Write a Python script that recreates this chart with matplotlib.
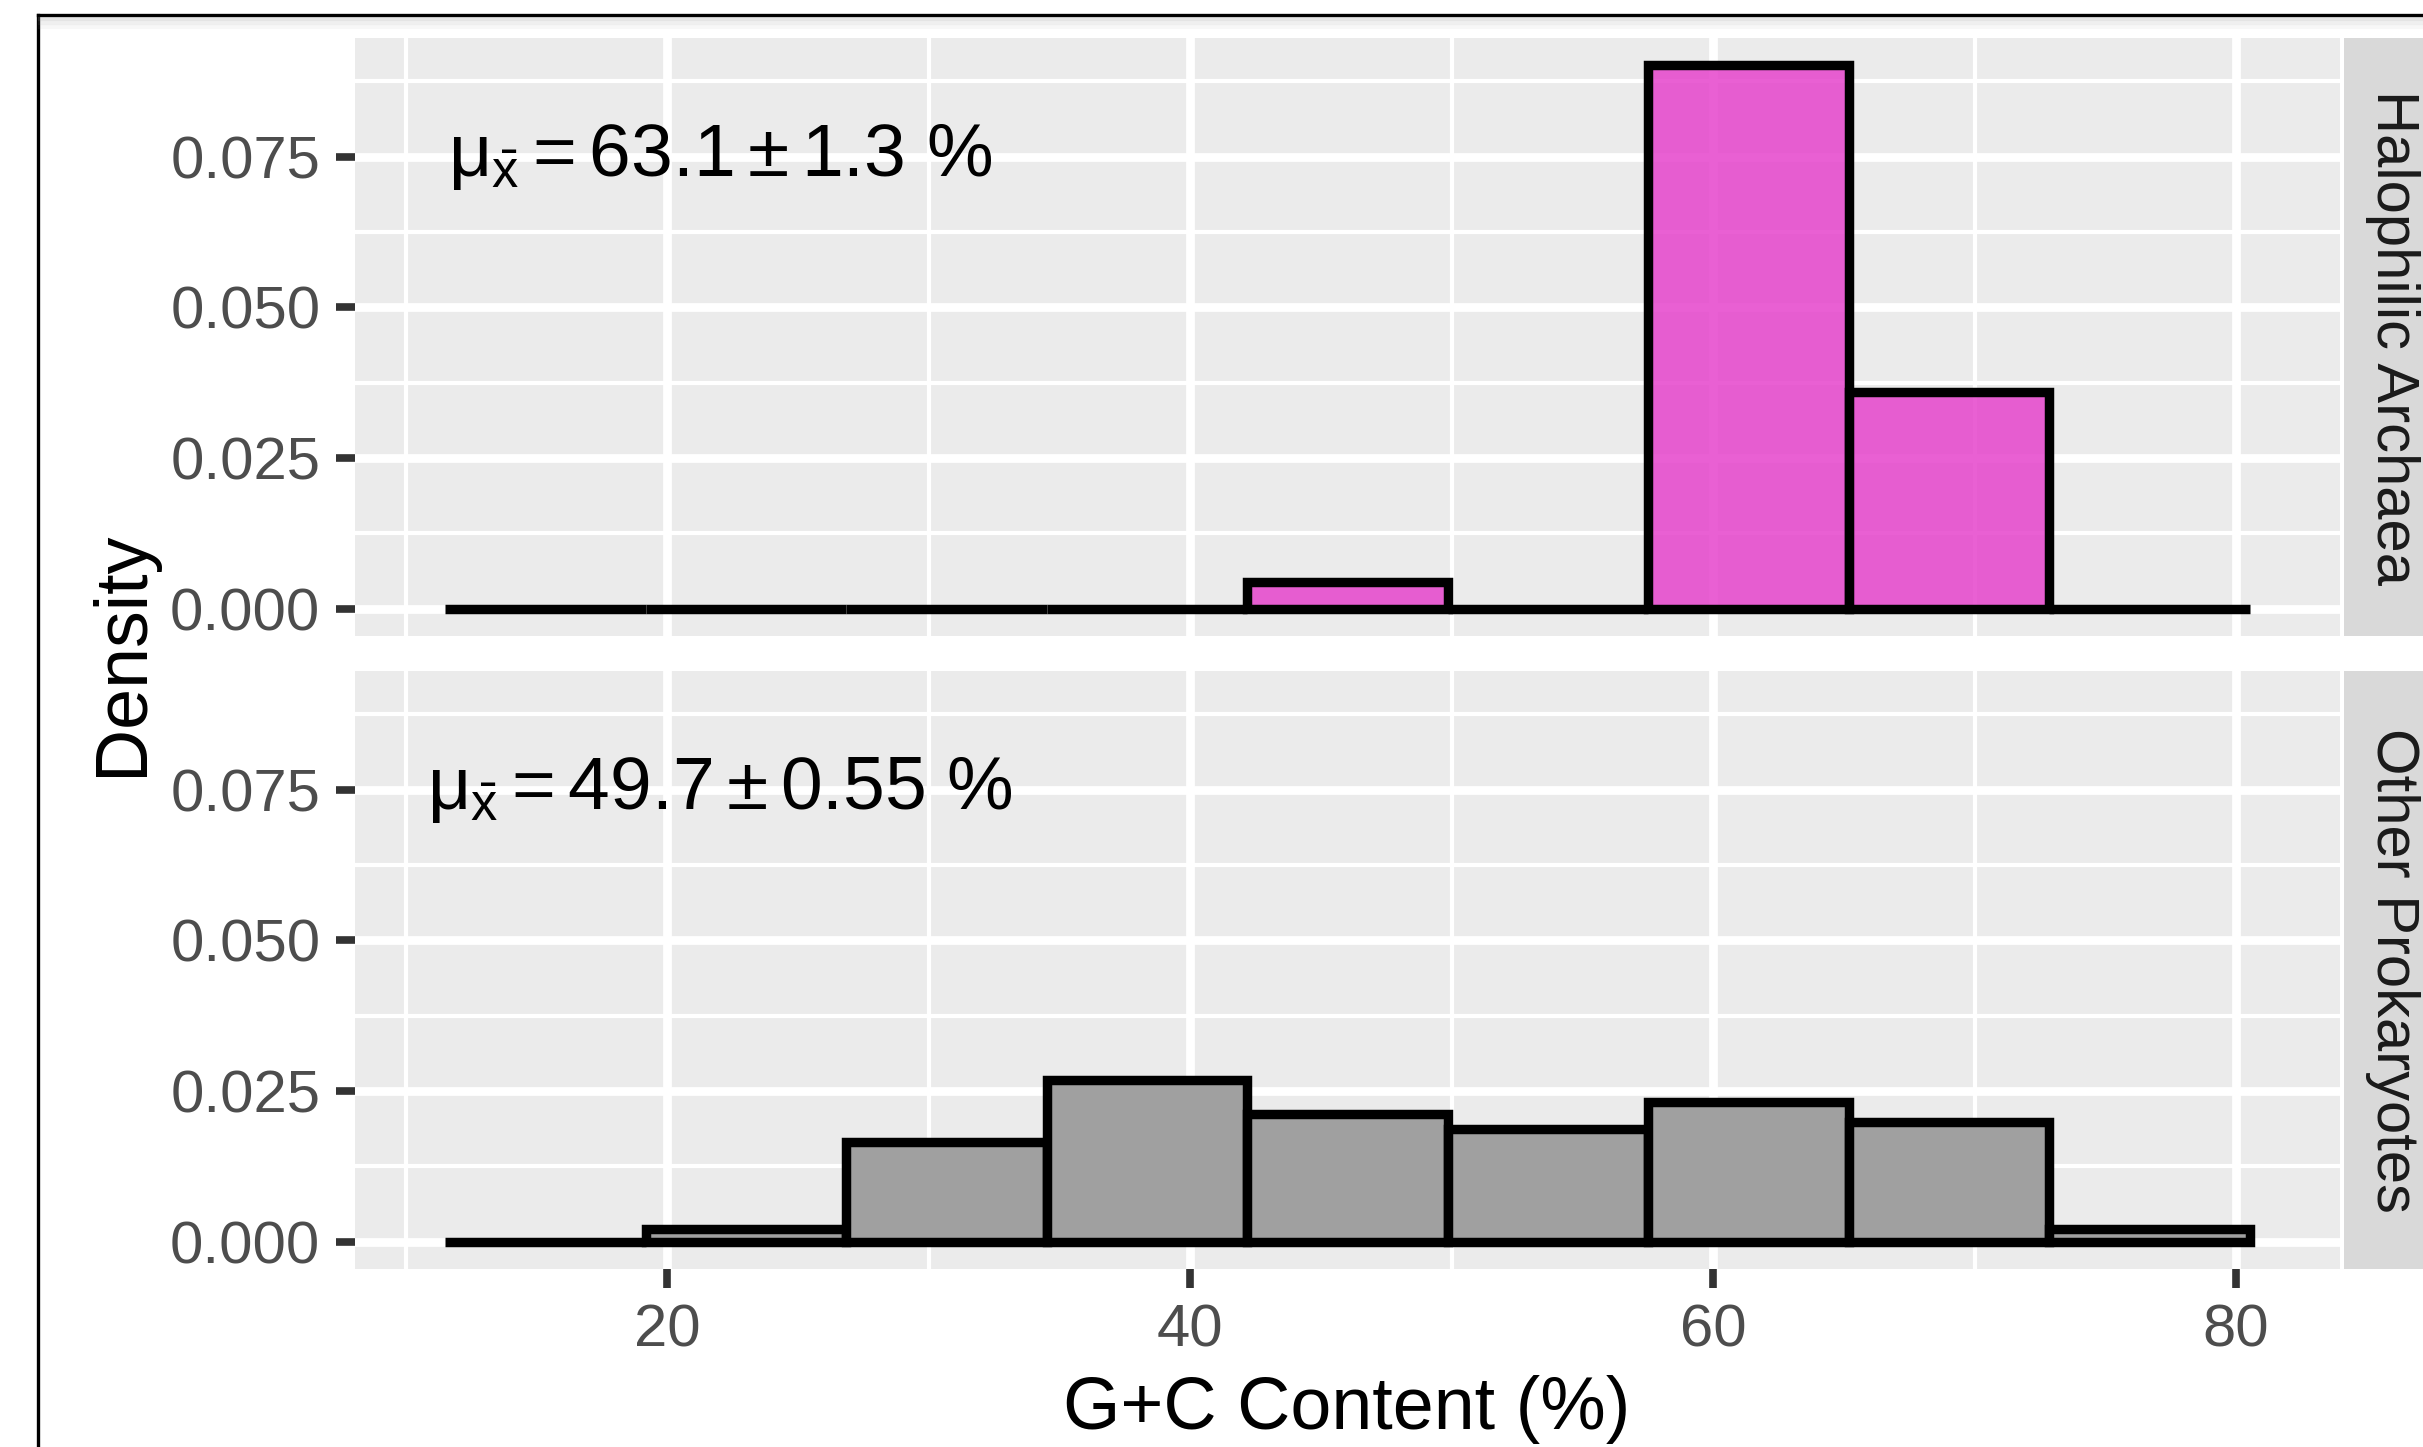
import matplotlib
matplotlib.use("Agg")
import matplotlib.pyplot as plt
from matplotlib.lines import Line2D
import numpy as np

plt.rcParams['font.family'] = ['Liberation Sans', 'DejaVu Sans']
plt.rcParams['mathtext.fontset'] = 'custom'
plt.rcParams['mathtext.rm'] = 'Liberation Sans'
plt.rcParams['mathtext.it'] = 'Liberation Sans'
plt.rcParams['mathtext.default'] = 'regular'

# data
bin_edges = [11.5, 19.17, 26.84, 34.51, 42.18, 49.85, 57.52, 65.19, 72.86, 80.53]
halophilic = [0, 0, 0, 0, 0.00449, 0, 0.0902, 0.0360, 0]
other = [0, 0.00206, 0.01661, 0.02686, 0.02116, 0.01867, 0.02316, 0.01993, 0.00206]
facets = ["Halophilic Archaea", "Other Prokaryotes"]
labels = [r"$\mu_{\bar{x}} = 63.1 \pm 1.3\ \%$", r"$\mu_{\bar{x}} = 49.7 \pm 0.55\ \%$"]
label_x = 22
label_y = 0.075
x_ticks = [20, 40, 60, 80]
x_minor = [10, 30, 50, 70]
y_ticks = [0, 0.025, 0.05, 0.075]
y_minor = [0.0125, 0.0375, 0.0625, 0.0875]

W, H = 2423, 1447
fig = plt.figure(figsize=(W / 100, H / 100), dpi=100)
fig.patch.set_facecolor("white")

def px_axes(x0, y0, x1, y1):
    return fig.add_axes([x0 / W, 1 - y1 / H, (x1 - x0) / W, (y1 - y0) / H])

edges = np.array(bin_edges)
widths = np.diff(edges)
rng = edges[-1] - edges[0]
ymax = max(max(halophilic), max(other))
xlim = (edges[0] - 0.05 * rng, edges[-1] + 0.05 * rng)
ylim = (-0.05 * ymax, 1.05 * ymax)

panels = [(38, 636), (671, 1269)]
fills = [("#E644CC", 0.85), ("#A0A0A0", 1.0)]
series = [halophilic, other]

for i, (y0, y1) in enumerate(panels):
    ax = px_axes(355, y0, 2340, y1)
    ax.set_facecolor("#EBEBEB")
    ax.set_axisbelow(True)
    fc = matplotlib.colors.to_rgba(fills[i][0], fills[i][1])
    ax.bar(edges[:-1], series[i], width=widths, align="edge",
           facecolor=fc, edgecolor="black", linewidth=6.8)
    ax.set_xlim(xlim)
    ax.set_ylim(ylim)
    ax.set_xticks(x_ticks)
    ax.set_xticks(x_minor, minor=True)
    ax.set_yticks(y_ticks)
    ax.set_yticks(y_minor, minor=True)
    ax.set_yticklabels([f"{v:.3f}" for v in y_ticks])
    ax.grid(which="major", color="white", linewidth=6.3)
    ax.grid(which="minor", color="white", linewidth=3.0)
    for s in ax.spines.values():
        s.set_visible(False)
    ax.tick_params(axis="y", which="major", length=14, width=5.5, color="#333333",
                   labelsize=43, labelcolor="#4D4D4D", pad=11)
    ax.tick_params(which="minor", length=0)
    if i == 0:
        ax.tick_params(axis="x", which="major", length=0, labelbottom=False)
    else:
        ax.tick_params(axis="x", which="major", length=14, width=5.5, color="#333333",
                       labelsize=43, labelcolor="#4D4D4D", pad=11)
    ax.text(label_x, label_y, labels[i], ha="center", va="center",
            fontsize=54, color="black")

    # facet strip
    sax = px_axes(2344, y0, 2470, y1)
    sax.set_facecolor("#D9D9D9")
    sax.set_xticks([])
    sax.set_yticks([])
    for s in sax.spines.values():
        s.set_visible(False)
    fig.text(2377 / W, 1 - (y0 + y1) / 2 / H, facets[i], rotation=-90,
             rotation_mode="anchor", ha="center", va="baseline",
             fontsize=43, color="#1A1A1A")

fig.text(1347 / W, 1 - 1429 / H, "G+C Content (%)", ha="center", va="baseline",
         fontsize=53, color="black")
fig.text(142 / W, 1 - 653.5 / H, "Density", rotation=90, rotation_mode="anchor",
         ha="center", va="baseline", fontsize=53, color="black")

# outer frame (partly cropped in the original)
fig.add_artist(Line2D([38 / W, 38 / W], [0, 1 - 15 / H], color="black", linewidth=2.4))
fig.add_artist(Line2D([38 / W, 1], [1 - 15 / H, 1 - 15 / H], color="black", linewidth=2.4))
for k, a in enumerate([0.25, 0.15, 0.08]):
    yy = 1 - (19 + 4 * k) / H
    fig.add_artist(Line2D([40 / W, 1], [yy, yy], color="#999999", alpha=a, linewidth=3))

fig.savefig("out.png", dpi=100)
